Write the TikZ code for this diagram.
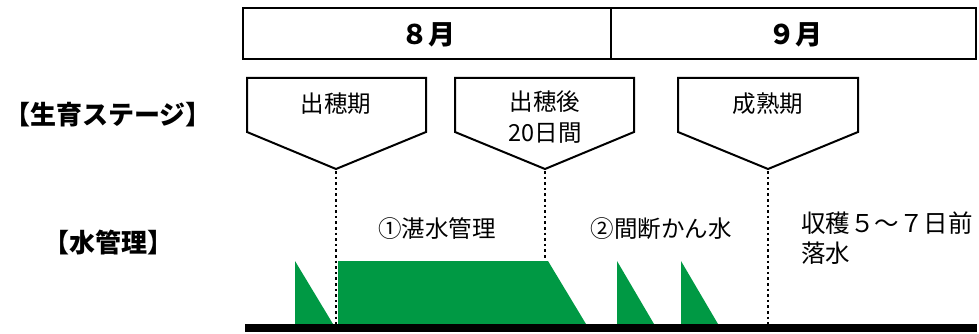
\documentclass[tikz,border=0pt]{standalone}
\usepackage{fontspec}
\setmainfont{Noto Sans CJK JP}
\definecolor{paddy}{RGB}{0,153,68}
\begin{document}
\begin{tikzpicture}[x=1pt,y=-1pt,
  frame/.style={draw=black,line width=2pt},
  label/.style={inner sep=0pt,font=\fontsize{23.5}{31}\selectfont,align=center},
  head/.style={inner sep=0pt,font=\fontsize{26}{30}\selectfont\bfseries},
  month/.style={inner sep=0pt,font=\fontsize{27}{30}\selectfont\bfseries},
  guide/.style={line width=2.5pt,line cap=butt,dash pattern=on 2.5pt off 3.1pt},
  water/.style={fill=paddy,draw=none}]
\useasboundingbox (0,0) rectangle (979,334);
% month bar
\draw[frame] (243,8) rectangle (976,59);
\draw[frame] (611,8) -- (611,59);
\node[month] (aug) at (428,35) {８月};
\node[month] (sep) at (795,35) {９月};
% row labels
\node[head,anchor=west] (stage) at (4,115) {【生育ステージ】};
\node[head] (wm) at (108,243) {【水管理】};
% pentagons
\draw[frame,line join=miter] (247,78) -- (426,78) -- (426,132) -- (336,169) -- (247,132) -- cycle;
\draw[frame,line join=miter] (455,78) -- (634,78) -- (634,132) -- (545,169) -- (455,132) -- cycle;
\draw[frame,line join=miter] (678,78) -- (858,78) -- (858,132) -- (768,169) -- (678,132) -- cycle;
\node[label] (p1) at (336,104) {出穂期};
\node[label] (p2) at (545,117) {出穂後\\20日間};
\node[label] (p3) at (768,104) {成熟期};
\coordinate (t1) at (336,171);
\coordinate (t2) at (545,171);
\coordinate (t3) at (768,171);
\coordinate (b1) at (336,324);
\coordinate (b2) at (545,259);
\coordinate (b3) at (768,324);
% green water levels
\fill[water] (295,261) -- (333,324) -- (295,324) -- cycle;
\fill[water] (338,261) -- (548,261) -- (586,324) -- (338,324) -- cycle;
\fill[water] (617,261) -- (654,324) -- (617,324) -- cycle;
\fill[water] (681,261) -- (718,324) -- (681,324) -- cycle;
% dotted guides
\draw[guide] (t1) -- (b1);
\draw[guide] (t2) -- (b2);
\draw[guide] (t3) -- (b3);
% base line
\fill[black] (245,324) rectangle (977,332);
% water labels
\node[label] (w1) at (437,229) {①湛水管理};
\node[label] (w2) at (661,229) {②間断かん水};
\node[label,font=\fontsize{24.5}{30}\selectfont,align=left,anchor=north west] (w3) at (801,212) {収穫５～７日前\\落水};
\end{tikzpicture}
\end{document}
